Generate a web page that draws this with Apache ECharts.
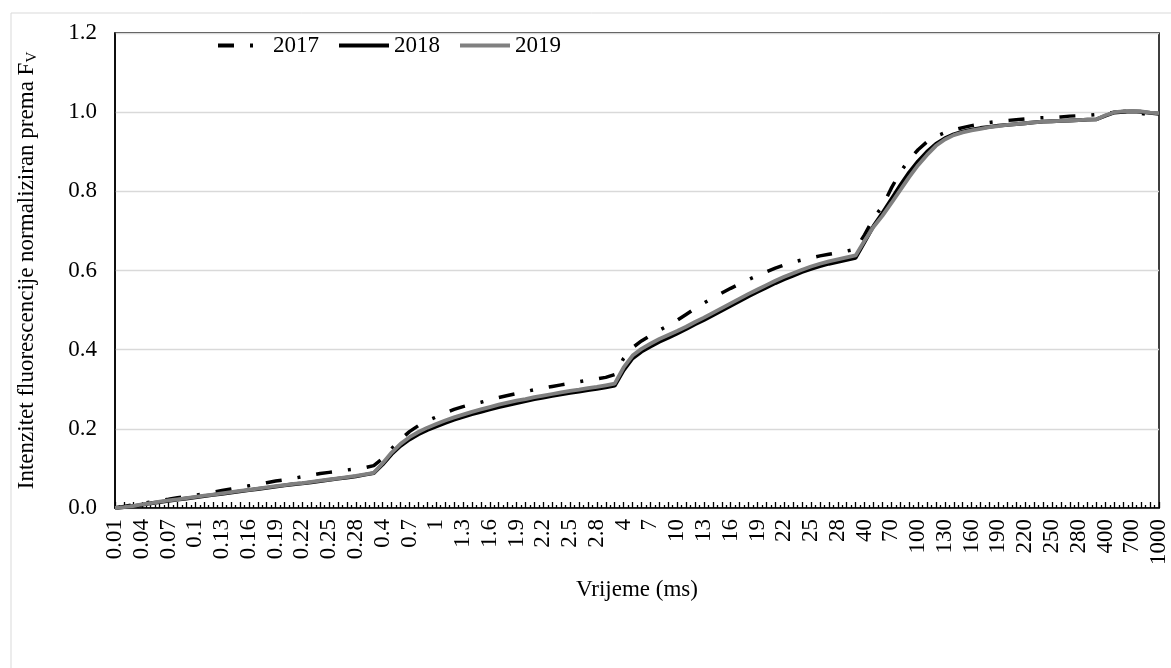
<!DOCTYPE html>
<html>
<head>
<meta charset="utf-8">
<script src="https://cdn.jsdelivr.net/npm/echarts@6/dist/echarts.min.js"></script>
<style>html,body{margin:0;padding:0;background:#fff;}#c{width:1171px;height:668px;}</style>
</head>
<body>
<div id="c"></div>
<script>
const categories = [
 '0.01','0.02','0.03','0.04','0.05','0.06','0.07','0.08','0.09','0.1',
 '0.11','0.12','0.13','0.14','0.15','0.16','0.17','0.18','0.19','0.2',
 '0.21','0.22','0.23','0.24','0.25','0.26','0.27','0.28','0.29','0.3',
 '0.4','0.5','0.6','0.7','0.8','0.9','1','1.1','1.2','1.3','1.4','1.5','1.6','1.7','1.8','1.9',
 '2','2.1','2.2','2.3','2.4','2.5','2.6','2.7','2.8','2.9','3',
 '4','5','6','7','8','9','10','11','12','13','14','15','16','17','18','19',
 '20','21','22','23','24','25','26','27','28','29','30',
 '40','50','60','70','80','90','100','110','120','130','140','150','160','170','180','190',
 '200','210','220','230','240','250','260','270','280','290','300',
 '400','500','600','700','800','900','1000'
];
const seriesNames = ['2017','2018','2019'];
const v2017 = [
 0.000,0.004,0.008,0.012,0.015,0.019,0.022,0.026,0.029,0.032,0.036,0.040,0.044,0.048,0.052,0.056,0.060,0.064,0.068,0.071,0.075,0.079,0.083,0.087,0.090,0.093,0.096,0.099,0.102,0.107,
 0.125,0.150,0.173,0.193,0.208,0.220,0.230,0.240,0.249,0.256,0.262,0.267,0.273,0.279,0.284,0.289,0.294,0.299,0.303,0.307,0.311,0.315,0.319,0.323,0.326,0.330,0.337,
 0.378,0.405,0.422,0.436,0.449,0.461,0.474,0.489,0.504,0.518,0.531,0.543,0.555,0.566,0.577,0.587,0.597,0.606,0.614,0.621,0.627,0.632,0.637,0.641,0.645,0.649,0.654,
 0.690,0.732,0.762,0.808,0.848,0.880,0.905,0.925,0.939,0.948,0.955,0.961,0.966,0.970,0.974,0.977,0.979,0.981,0.983,0.985,0.986,0.987,0.988,0.990,0.991,0.992,0.994,
 0.996,1.000,1.002,1.001,0.997,0.993,0.996
];
const v2018 = [
 0.000,0.002,0.005,0.008,0.012,0.015,0.018,0.021,0.024,0.027,0.030,0.033,0.036,0.039,0.042,0.045,0.048,0.051,0.054,0.057,0.060,0.062,0.065,0.068,0.071,0.074,0.077,0.080,0.084,0.088,
 0.110,0.136,0.157,0.173,0.186,0.197,0.206,0.215,0.223,0.230,0.237,0.243,0.249,0.255,0.260,0.265,0.270,0.275,0.279,0.283,0.287,0.291,0.294,0.298,0.301,0.305,0.309,
 0.348,0.378,0.395,0.408,0.420,0.430,0.441,0.452,0.464,0.475,0.487,0.499,0.511,0.523,0.535,0.546,0.557,0.568,0.578,0.587,0.596,0.604,0.611,0.617,0.622,0.627,0.632,
 0.672,0.712,0.745,0.780,0.815,0.848,0.876,0.900,0.920,0.934,0.944,0.951,0.956,0.960,0.963,0.966,0.968,0.970,0.972,0.974,0.976,0.977,0.978,0.979,0.980,0.981,0.982,
 0.991,0.999,1.001,1.002,1.001,0.998,0.996
];
const v2019 = [
 0.000,0.002,0.005,0.009,0.012,0.016,0.019,0.022,0.025,0.028,0.031,0.034,0.037,0.040,0.043,0.046,0.049,0.052,0.055,0.058,0.061,0.063,0.066,0.069,0.072,0.075,0.078,0.081,0.085,0.089,
 0.113,0.140,0.162,0.179,0.192,0.203,0.212,0.221,0.229,0.236,0.243,0.249,0.255,0.261,0.266,0.271,0.275,0.280,0.284,0.288,0.292,0.296,0.299,0.303,0.306,0.310,0.314,
 0.355,0.385,0.402,0.415,0.427,0.437,0.447,0.458,0.470,0.481,0.493,0.505,0.517,0.529,0.541,0.552,0.563,0.574,0.584,0.593,0.602,0.610,0.617,0.623,0.628,0.633,0.638,
 0.675,0.710,0.738,0.770,0.803,0.836,0.866,0.892,0.915,0.931,0.942,0.949,0.954,0.958,0.962,0.965,0.968,0.970,0.972,0.974,0.976,0.977,0.978,0.979,0.980,0.981,0.982,
 0.992,1.000,1.002,1.003,1.002,0.999,0.997
];
const yTicks = {min: 0, max: 1.2, interval: 0.2};

const FONT = 'Liberation Serif';
const FS = 23;
const chart = echarts.init(document.getElementById('c'), null, {renderer: 'canvas'});
const midCats = categories.slice(1).map(() => '');
chart.setOption({
  backgroundColor: '#fff',
  animation: false,
  textStyle: {fontFamily: FONT, color: '#000'},
  graphic: [{
    type: 'rect', left: 8.5, top: 10.5, silent: true, z: -10,
    shape: {width: 1161, height: 700},
    style: {fill: 'none', stroke: '#d9d9d9', lineWidth: 1}
  }],
  grid: {left: 115, right: 12, top: 33, bottom: 160, show: true, borderColor: '#000', borderWidth: 1.5, backgroundColor: 'transparent'},
  legend: {
    left: 211, top: 29, itemWidth: 50, itemHeight: 14, itemGap: 18,
    itemStyle: {opacity: 0},
    lineStyle: {width: 4},
    textStyle: {fontFamily: FONT, fontSize: FS, color: '#000'},
    data: seriesNames
  },
  xAxis: [{
    type: 'category', data: categories, boundaryGap: false,
    name: 'Vrijeme (ms)', nameLocation: 'middle', nameGap: 70,
    nameTextStyle: {fontFamily: FONT, fontSize: FS, color: '#000'},
    axisLine: {lineStyle: {color: '#000', width: 1.5}},
    axisTick: {show: true, inside: true, interval: 0, length: 6, lineStyle: {color: '#000', width: 1.3}},
    axisLabel: {interval: 2, rotate: 90, margin: 11, fontFamily: FONT, fontSize: FS, color: '#000'},
    splitLine: {show: false}
  }, {
    type: 'category', data: midCats, boundaryGap: true, position: 'bottom',
    axisLine: {show: false},
    axisTick: {show: true, inside: true, interval: 0, alignWithLabel: true, length: 3, lineStyle: {color: '#000', width: 1.3}},
    axisLabel: {show: false},
    splitLine: {show: false}
  }],
  yAxis: {
    type: 'value', min: yTicks.min, max: yTicks.max, interval: yTicks.interval,
    name: 'Intenzitet fluorescencije normaliziran prema F{s|V}',
    nameLocation: 'middle', nameGap: 75, nameRotate: 90,
    nameTextStyle: {fontFamily: FONT, fontSize: FS, color: '#000',
      rich: {s: {fontFamily: FONT, fontSize: 15, color: '#000', verticalAlign: 'bottom', padding: [12, 0, 0, 0]}}},
    axisLine: {show: true, lineStyle: {color: '#000', width: 1.5}},
    axisTick: {show: false},
    axisLabel: {margin: 18, fontFamily: FONT, fontSize: FS, color: '#000', formatter: v => v.toFixed(1)},
    splitLine: {show: true, lineStyle: {color: '#d9d9d9', width: 1.3}}
  },
  series: [{
    name: seriesNames[0], type: 'line', data: v2017, xAxisIndex: 0, symbol: 'none', z: 2,
    lineStyle: {color: '#000', width: 3.5, type: [16, 16, 3, 16], cap: 'butt'},
    itemStyle: {color: '#000'}
  }, {
    name: seriesNames[1], type: 'line', data: v2018, xAxisIndex: 0, symbol: 'none', z: 3,
    lineStyle: {color: '#000', width: 3.8},
    itemStyle: {color: '#000'}
  }, {
    name: seriesNames[2], type: 'line', data: v2019, xAxisIndex: 0, symbol: 'none', z: 4,
    lineStyle: {color: '#808080', width: 3.8},
    itemStyle: {color: '#808080'}
  }]
});
</script>
</body>
</html>
